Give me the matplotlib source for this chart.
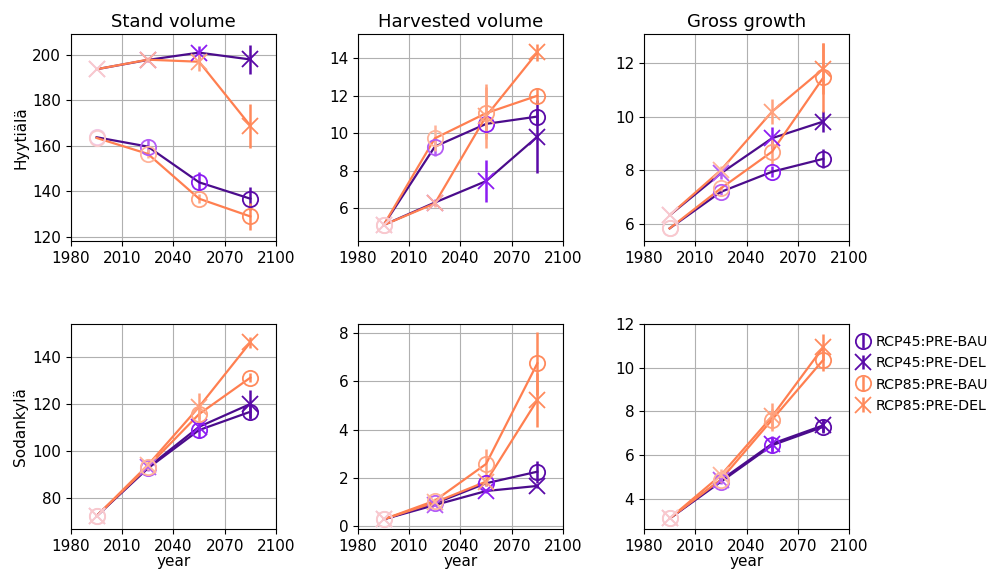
import matplotlib
matplotlib.use('Agg')
import matplotlib.pyplot as plt

# simulation periods (mid year)
years = [1995, 2025, 2055, 2085]
scenarios = ['RCP45:PRE-BAU', 'RCP45:PRE-DEL', 'RCP85:PRE-BAU', 'RCP85:PRE-DEL']
sites = ['Hyytiälä', 'Sodankylä']
variables = ['Stand volume', 'Harvested volume', 'Gross growth']

# Hyytiälä means
hyy_stand = [[163.8, 159.7, 144.0, 136.8],
             [193.7, 197.8, 201.0, 198.0],
             [163.5, 156.5, 136.8, 129.0],
             [193.7, 197.9, 197.0, 168.9]]
hyy_harv = [[5.1, 9.28, 10.49, 10.88],
            [5.1, 6.30, 7.44, 9.81],
            [5.1, 9.72, 11.06, 11.99],
            [5.1, 6.25, 10.9, 14.3]]
hyy_growth = [[5.84, 7.20, 7.95, 8.43],
              [6.33, 7.89, 9.20, 9.82],
              [5.84, 7.33, 8.70, 11.46],
              [6.33, 8.01, 10.19, 11.79]]

# Sodankylä means
sod_stand = [[72.2, 92.5, 108.8, 116.6],
             [72.2, 92.9, 110.2, 119.9],
             [72.2, 93.2, 115.6, 131.1],
             [72.2, 93.9, 118.7, 146.1]]
sod_harv = [[0.29, 0.95, 1.78, 2.26],
            [0.29, 0.88, 1.46, 1.67],
            [0.29, 1.06, 2.58, 6.74],
            [0.29, 0.99, 1.85, 5.22]]
sod_growth = [[3.1, 4.78, 6.45, 7.29],
              [3.1, 4.85, 6.52, 7.36],
              [3.1, 4.88, 7.62, 10.36],
              [3.1, 5.08, 7.77, 10.94]]

# spread between climate models
hyy_stand_err = [[0, 3.5, 4.4, 5.0], [0, 1.0, 3.0, 6.3], [0, 2.0, 2.0, 5.9], [0, 1.0, 4.2, 9.7]]
hyy_harv_err = [[0, 0.5, 0.3, 0.4], [0, 0.2, 1.1, 1.96], [0, 0.7, 1.4, 0.4], [0, 0.2, 1.7, 0.45]]
hyy_growth_err = [[0, 0.1, 0.2, 0.35], [0, 0.2, 0.4, 0.4], [0, 0.1, 0.5, 1.3], [0, 0.15, 0.45, 0.95]]
sod_stand_err = [[0, 1.0, 3.5, 3.0], [0, 1.0, 2.0, 6.0], [0, 1.0, 2.0, 2.0], [0, 2.0, 6.0, 2.5]]
sod_harv_err = [[0, 0.1, 0.1, 0.45], [0, 0.05, 0.1, 0.1], [0, 0.1, 0.6, 1.3], [0, 0.1, 0.2, 1.1]]
sod_growth_err = [[0, 0.1, 0.35, 0.3], [0, 0.1, 0.35, 0.3], [0, 0.1, 0.5, 0.5], [0, 0.3, 0.6, 0.6]]

means = [[hyy_stand, hyy_harv, hyy_growth], [sod_stand, sod_harv, sod_growth]]
errs = [[hyy_stand_err, hyy_harv_err, hyy_growth_err], [sod_stand_err, sod_harv_err, sod_growth_err]]
ylims = [[(118.2, 209.2), (4.25, 15.28), (5.37, 13.08)],
         [(66.7, 154.0), (-0.11, 8.37), (2.62, 12.0)]]

line_cols = ['#4b0c8c', '#4b0c8c', '#ff7f50', '#ff7f50']
# marker colour fades in with time
rcp45_cols = ['#f2c6e6', '#b45cf5', '#8c1cf2', '#5a0aa8']
rcp85_cols = ['#f9c9cc', '#ffb49a', '#ffa27e', '#ff8a5c']
mark_cols = [rcp45_cols, rcp45_cols, rcp85_cols, rcp85_cols]
markers = ['o', 'x', 'o', 'x']

plt.rcParams['font.size'] = 11
plt.rcParams['axes.titlesize'] = 13

fig = plt.figure(figsize=(9.98, 5.73), dpi=100)
lefts = [0.0711, 0.3587, 0.6453]
bottoms = [0.5794, 0.0768]
heights = [0.3613, 0.358]

handles = []
for r in range(2):
    for c in range(3):
        ax = fig.add_axes([lefts[c], bottoms[r], 0.2054, heights[r]])
        ax.grid(True, color='#b0b0b0', lw=0.8)
        ax.set_axisbelow(True)
        for s in range(4):
            ys = means[r][c][s]
            es = errs[r][c][s]
            for t in range(4):
                h = ax.errorbar(years[t], ys[t], yerr=es[t], marker=markers[s],
                                color=mark_cols[s][t], mfc='none', ms=11, mew=1.3,
                                elinewidth=1.8, ls='', label=scenarios[s])
            if r == 1 and c == 2:
                handles.append(h)
            ax.plot(years, ys, color=line_cols[s], lw=1.6)
        ax.set_xlim(1980, 2100)
        ax.set_xticks([1980, 2010, 2040, 2070, 2100])
        ax.set_ylim(ylims[r][c])
        if r == 0:
            ax.set_title(variables[c], pad=5)
        else:
            ax.set_xlabel('year', labelpad=0)
        if c == 0:
            ax.set_ylabel(sites[r], labelpad=3)

fig.legend(handles, scenarios, loc='upper left', bbox_to_anchor=(0.853, 0.425),
           frameon=False, handletextpad=0.4, borderaxespad=0, handlelength=0.9,
           labelspacing=0.5, fontsize=10.3)

fig.savefig('out.png', dpi=100)
